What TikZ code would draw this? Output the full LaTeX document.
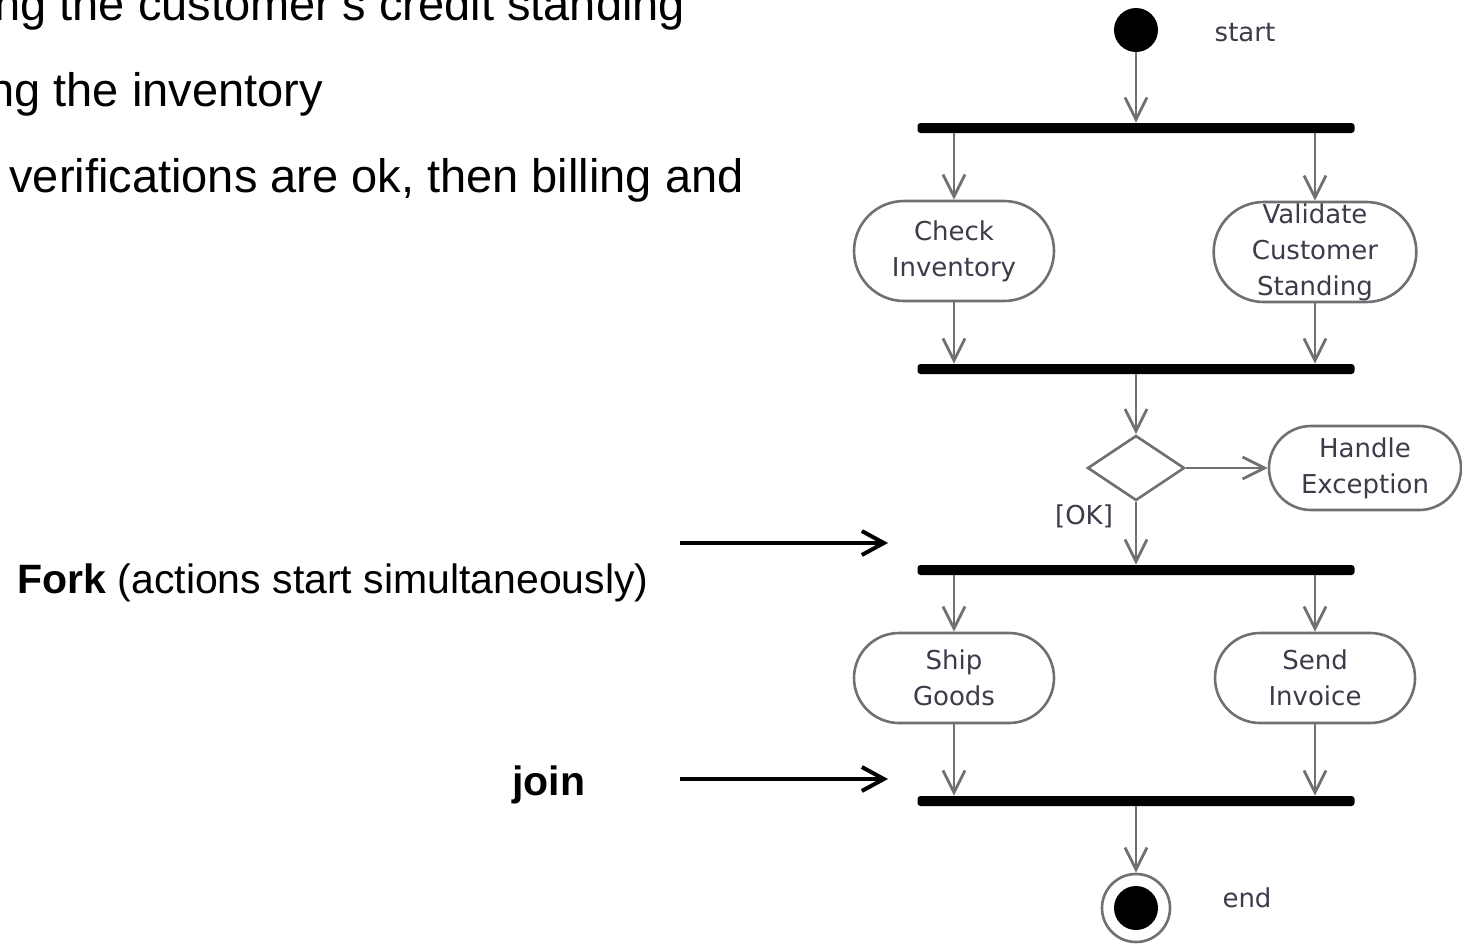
\documentclass[tikz,border=0pt]{standalone}
\usepackage{fontspec}
\setmainfont{Liberation Sans}
\newfontfamily\umlfont{DejaVu Sans}
\usetikzlibrary{arrows.meta,shapes.misc,shapes.geometric}
\definecolor{umlgray}{RGB}{112,112,112}
\definecolor{umltext}{RGB}{58,60,74}

\begin{document}
\begin{tikzpicture}[x=0.5pt,y=-0.5pt,
    flow/.style={draw=umlgray,line width=1.4pt,-{Straight Barb[length=11pt,width=11pt]}},
    bar/.style={fill=black,inner sep=0pt,minimum width=218.5pt,minimum height=5pt,rounded corners=1.5pt},
    action/.style={rounded rectangle,draw=umlgray,line width=1.3pt,fill=white,inner sep=0pt,
      minimum width=100pt,minimum height=50pt,align=center,
      font=\umlfont\fontsize{13}{18}\selectfont,text=umltext},
    umllabel/.style={font=\umlfont\fontsize{13}{16}\selectfont,text=umltext,inner sep=0pt},
    slidetext/.style={font=\fontsize{23.5}{28}\selectfont,anchor=base west,inner sep=0pt},
    pointer/.style={line width=2pt,-{Straight Barb[length=11pt,width=12pt]}}]
    \fill[white] (0,0) rectangle (1462,944);
    \useasboundingbox (0,0) rectangle (1462,944);

    % slide text (cut at the left edge)
    \node[slidetext] (line1) at (-6,20) {ng the customer's credit standing};
    \node[slidetext] (line2) at (-12,106) {ng the inventory};
    \node[slidetext] (line3) at (9,192) {verifications are ok, then billing and};
    \node[slidetext,font=\fontsize{20.5}{24}\selectfont] (forklbl) at (17,593) {\textbf{Fork} (actions start simultaneously)};
    \node[slidetext,font=\fontsize{20.5}{24}\selectfont] (joinlbl) at (512,795) {\textbf{join}};
    \coordinate (forkfrom) at (680,543);
    \coordinate (forkto) at (888,543);
    \coordinate (joinfrom) at (680,779);
    \coordinate (jointo) at (888,779);
    \draw[pointer] (forkfrom) -- (forkto);
    \draw[pointer] (joinfrom) -- (jointo);

    % activity diagram
    \node[circle,fill=black,minimum size=22pt,inner sep=0pt] (start) at (1136,30) {};
    \node[umllabel] (startlbl) at (1245,33) {start};
    \node[bar] (fork1) at (1136,128) {};
    \node[action] (check) at (954,251) {Check\\Inventory};
    \node[action] (validate) at (1315,252) {Validate\\Customer\\Standing};
    \node[bar] (join1) at (1136,369) {};
    \node[diamond,draw=umlgray,line width=1.3pt,minimum width=48.5pt,minimum height=32.5pt,inner sep=0pt] (decision) at (1136,468) {};
    \node[action,minimum width=96pt,minimum height=42pt] (handle) at (1365,468) {Handle\\Exception};
    \node[umllabel] (oklbl) at (1084,516) {[OK]};
    \node[bar] (fork2) at (1136,570) {};
    \node[action,minimum height=45pt] (ship) at (954,678) {Ship\\Goods};
    \node[action,minimum height=45pt] (send) at (1315,678) {Send\\Invoice};
    \node[bar] (join2) at (1136,801) {};
    \node[circle,draw=umlgray,line width=1.3pt,minimum size=34pt,inner sep=0pt] (stop) at (1136,908) {};
    \node[circle,fill=black,minimum size=22pt,inner sep=0pt] (stopdot) at (stop) {};
    \node[umllabel] (endlbl) at (1247,898) {end};

    \draw[flow] (start) -- (fork1);
    \draw[flow] (check.north |- fork1.south) -- (check.north);
    \draw[flow] (validate.north |- fork1.south) -- (validate.north);
    \draw[flow] (check.south) -- (check.south |- join1.north);
    \draw[flow] (validate.south) -- (validate.south |- join1.north);
    \draw[flow] (join1) -- (decision);
    \draw[flow] (decision) -- (handle);
    \draw[flow] (decision) -- (fork2);
    \draw[flow] (ship.north |- fork2.south) -- (ship.north);
    \draw[flow] (send.north |- fork2.south) -- (send.north);
    \draw[flow] (ship.south) -- (ship.south |- join2.north);
    \draw[flow] (send.south) -- (send.south |- join2.north);
    \draw[flow] (join2) -- (stop);
\end{tikzpicture}
\end{document}
